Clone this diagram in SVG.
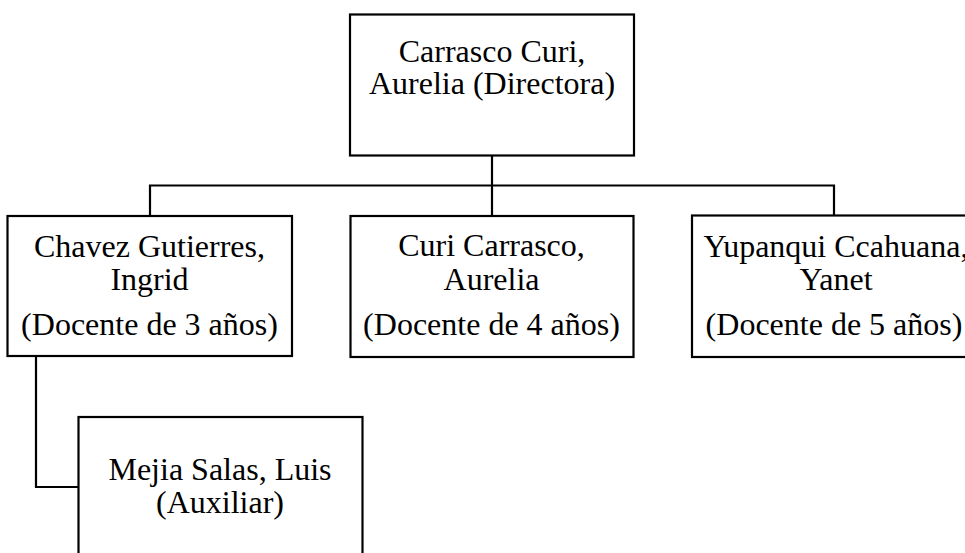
<svg xmlns="http://www.w3.org/2000/svg" width="965" height="553" viewBox="0 0 965 553">
<style>
.box{fill:#fff;stroke:#000;stroke-width:2.2}
.conn{fill:none;stroke:#000;stroke-width:2.2}
text{font-family:"Liberation Serif","Times New Roman",serif;font-size:32px;fill:#000;text-anchor:middle}
</style>
<rect width="965" height="553" fill="#fff"/>
<g id="connectors">
<path class="conn" d="M492 155 V185.5"/>
<path class="conn" d="M150 215 V185.5 H834 V215"/>
<path class="conn" d="M492 185.5 V216"/>
<path class="conn" d="M36 356 V487 H78"/>
</g>
<g id="n_directora">
<rect class="box" x="350" y="14.5" width="284" height="141"/>
<text x="492" y="62">Carrasco Curi,</text>
<text x="492" y="94">Aurelia (Directora)</text>
</g>
<g id="n_chavez">
<rect class="box" x="7.5" y="216" width="284.5" height="140"/>
<text x="149.5" y="257">Chavez Gutierres,</text>
<text x="149.5" y="290">Ingrid</text>
<text x="149.5" y="335">(Docente de 3 años)</text>
</g>
<g id="n_curi">
<rect class="box" x="350.5" y="216" width="283" height="141"/>
<text x="491.5" y="256">Curi Carrasco,</text>
<text x="491.5" y="290">Aurelia</text>
<text x="491.5" y="335">(Docente de 4 años)</text>
</g>
<g id="n_yupanqui">
<rect class="box" x="692" y="215.5" width="284" height="141.5"/>
<text x="836" y="257">Yupanqui Ccahuana,</text>
<text x="836" y="290">Yanet</text>
<text x="834" y="335">(Docente de 5 años)</text>
</g>
<g id="n_mejia">
<rect class="box" x="78.5" y="417" width="284" height="150"/>
<text x="220" y="480">Mejia Salas, Luis</text>
<text x="220" y="513">(Auxiliar)</text>
</g>
</svg>
